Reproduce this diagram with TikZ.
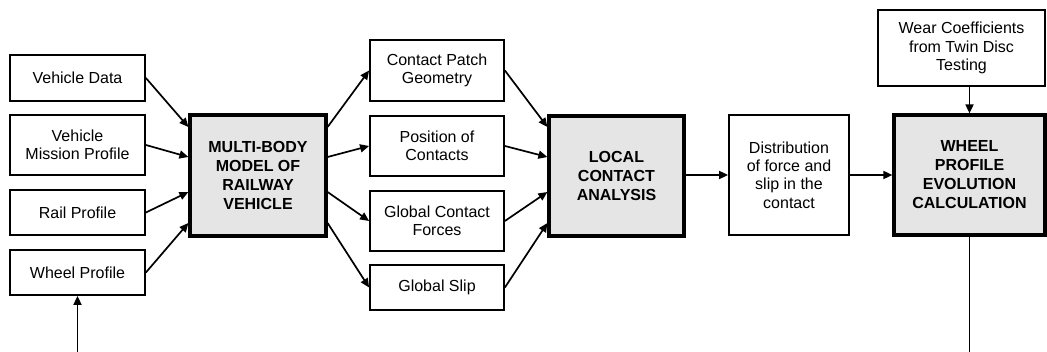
\documentclass[tikz,border=0pt]{standalone}
\usepackage{fontspec}
\setmainfont{Liberation Sans}
\usetikzlibrary{arrows.meta}
\begin{document}
\begin{tikzpicture}[x=1pt,y=-1pt,
  box/.style={draw, line width=1.8pt, align=center, inner sep=0pt,
    font=\fontsize{16}{18.4}\selectfont},
  mainbox/.style={draw, line width=3.2pt, fill=black!10, align=center, inner sep=0pt,
    font=\fontsize{16}{19}\selectfont\bfseries},
  arr/.style={line width=1.7pt, -{Triangle[length=9pt,width=8pt]}},
  plain/.style={line width=1.7pt}]
\useasboundingbox (0,0) rectangle (1047,352);
% left inputs
\node[box, minimum width=135pt, minimum height=46pt] (vd) at (77.5,78) {Vehicle Data};
\node[box, minimum width=135pt, minimum height=60pt] (vmp) at (77.5,145) {Vehicle\\Mission Profile};
\node[box, minimum width=135pt, minimum height=45pt] (rp) at (77.5,212.5) {Rail Profile};
\node[box, minimum width=135pt, minimum height=45pt] (wp) at (77.5,272.5) {Wheel Profile};
% multibody
\node[mainbox, minimum width=136pt, minimum height=121pt] (mbm) at (258,175.5) {MULTI-BODY\\MODEL OF\\RAILWAY\\VEHICLE};
% middle
\node[box, minimum width=134pt, minimum height=61pt] (cpg) at (437,70.5) {Contact Patch\\Geometry};
\node[box, minimum width=134pt, minimum height=60pt] (poc) at (437,146) {Position of\\Contacts};
\node[box, minimum width=134pt, minimum height=60pt] (gcf) at (437,221) {Global Contact\\Forces};
\node[box, minimum width=134pt, minimum height=45pt] (gs) at (437,287.5) {Global Slip};
% local contact
\node[mainbox, minimum width=135pt, minimum height=120pt] (lca) at (616.5,176) {LOCAL\\CONTACT\\ANALYSIS};
% distribution
\node[box, minimum width=120pt, minimum height=120pt] (dist) at (789,175) {Distribution\\of force and\\slip in the\\contact};
% wheel profile evolution
\node[mainbox, minimum width=151pt, minimum height=120pt] (wpec) at (969.5,175) {WHEEL\\PROFILE\\EVOLUTION\\CALCULATION};
\node[box, minimum width=167pt, minimum height=76pt] (wear) at (961.5,48) {Wear Coefficients\\from Twin Disc\\Testing};
% free ends
\coordinate (inbot) at (77.5,352);
\coordinate (outbot) at (969.5,352);
% connectors into MBM
\draw[arr] (vd.east) -- ([yshift=48.5pt]mbm.west);
\draw[arr] (vmp.east) -- ([yshift=18.5pt]mbm.west);
\draw[arr] (rp.east) -- ([yshift=-16.5pt]mbm.west);
\draw[arr] (wp.east) -- ([yshift=-47.5pt]mbm.west);
% MBM to middle
\draw[arr] ([yshift=48.5pt]mbm.east) -- (cpg.west);
\draw[arr] ([yshift=18.5pt]mbm.east) -- (poc.west);
\draw[arr] ([yshift=-16.5pt]mbm.east) -- (gcf.west);
\draw[arr] ([yshift=-47.5pt]mbm.east) -- (gs.west);
% middle to LCA
\draw[arr] (cpg.east) -- ([yshift=49pt]lca.west);
\draw[arr] (poc.east) -- ([yshift=19pt]lca.west);
\draw[arr] (gcf.east) -- ([yshift=-16pt]lca.west);
\draw[arr] (gs.east) -- ([yshift=-47pt]lca.west);
% chain
\draw[arr] (lca.east |- dist.west) -- (dist.west);
\draw[arr] (dist.east) -- (wpec.west);
\draw[arr] (wpec.north |- wear.south) -- (wpec.north);
% feedback stubs
\draw[plain] (wpec.south) -- (outbot);
\draw[arr] (inbot) -- (wp.south);
\end{tikzpicture}
\end{document}
